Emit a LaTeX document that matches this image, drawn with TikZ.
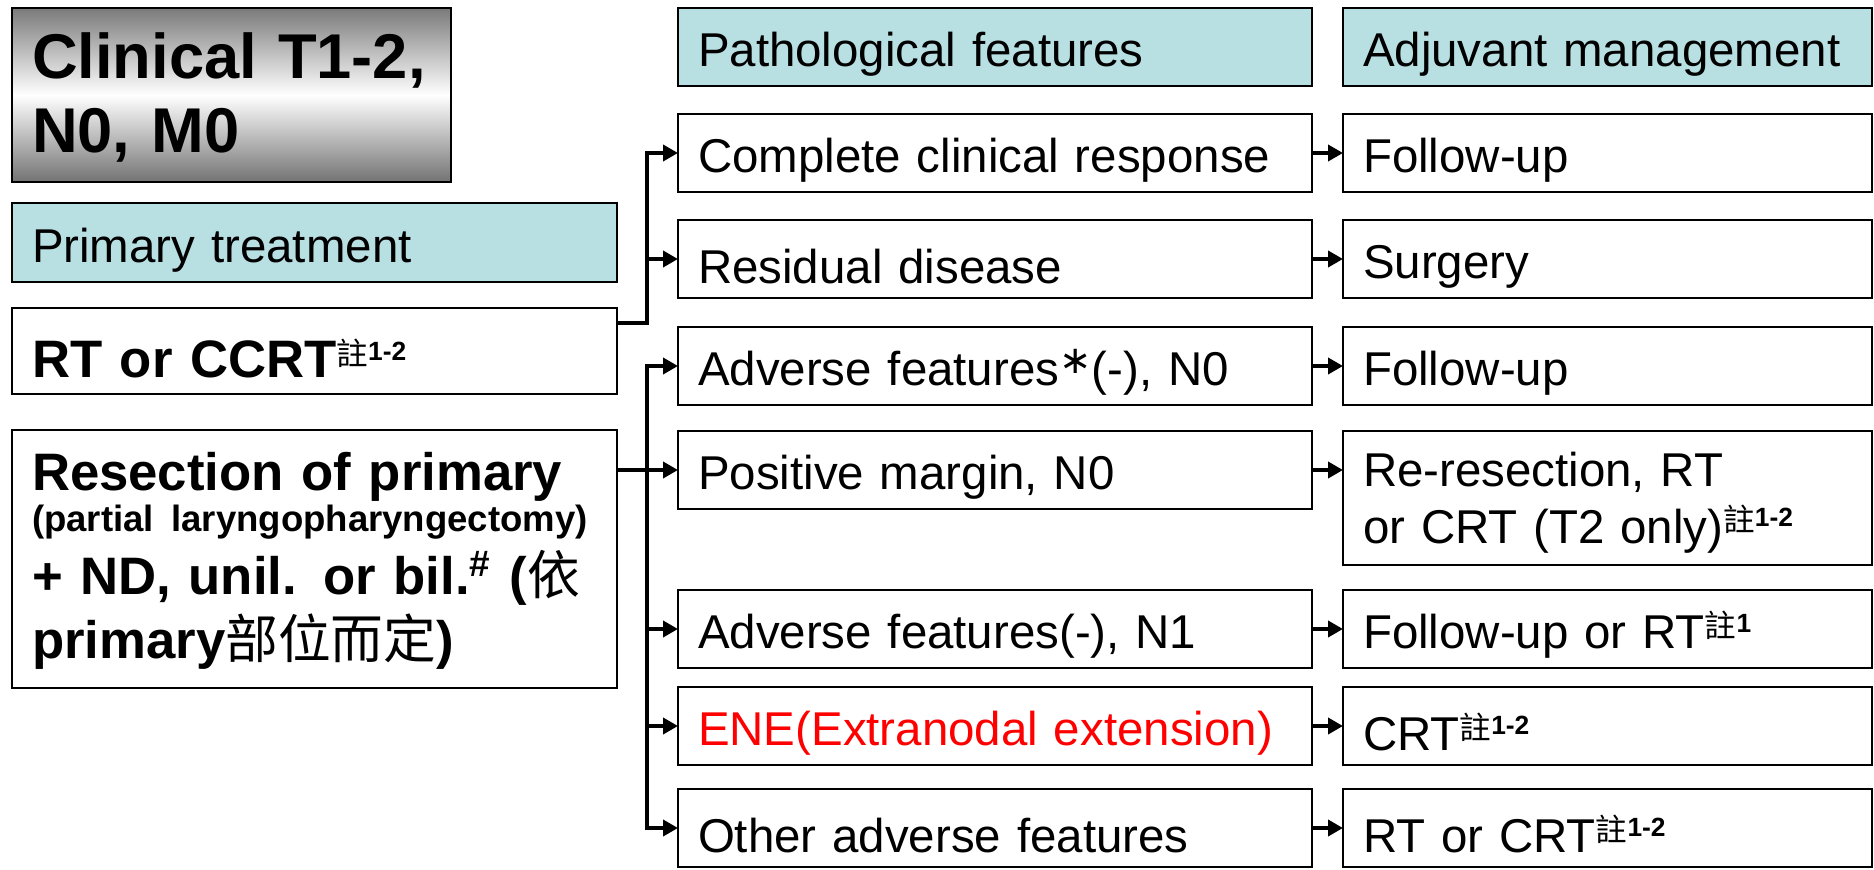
\documentclass[tikz,border=0pt]{standalone}
\usepackage{fontspec}
\setmainfont{Liberation Sans}
\newfontfamily\cjk{Noto Sans CJK TC}
\newfontfamily\symb{DejaVu Sans}
\usetikzlibrary{positioning}
\usetikzlibrary{arrows.meta}

\definecolor{headblue}{RGB}{184,223,226}
\definecolor{enered}{RGB}{255,0,0}

% footnote mark: 註 + number
\newcommand{\zhu}[1]{{\cjk\mdseries\fontsize{9}{9}\selectfont\raisebox{3.2pt}{註}}{\fontsize{7.5}{7.5}\selectfont\bfseries\raisebox{4.6pt}{#1}}}
% strut for one-line boxes
\newcommand{\st}{\rule{0pt}{1.04em}}

\begin{document}
\begin{tikzpicture}[box/.style={draw=black, line width=0.7pt, anchor=north west, align=left,
        inner xsep=0.2cm, inner ysep=0pt, outer sep=0pt, font=\fontsize{13.5}{16.2}\selectfont},
    head/.style={box, fill=headblue},
    L/.style={box, text width=5.65cm},
    P/.style={box, text width=5.94cm, minimum height=0.78cm},
    A/.style={box, text width=4.89cm, minimum height=0.78cm},
    arr/.style={line width=1.2pt, -{Triangle[length=0.15cm, width=0.16cm]}}]
    \useasboundingbox (0,0) rectangle (18.74,-8.69);

    % left column
    \node[box, text width=3.99cm, minimum height=1.74cm, top color=black!52, bottom color=black!55,
        middle color=white, font=\bfseries\fontsize{18}{21}\selectfont] (clin) at (0.12,-0.08) {\rule{0pt}{0.8em}Clinical T1-2,\\N0, M0};
    \node[head, text width=5.65cm, minimum height=0.79cm] (ptx) at (0.12,-2.03) {\st Primary treatment};
    \node[L, minimum height=0.86cm, font=\bfseries\fontsize{15}{18}\selectfont] (rt) at (0.12,-3.08) {\rule{0pt}{1em}RT or CCRT\zhu{1-2}};
    \node[L, minimum height=2.58cm, font=\bfseries\fontsize{15}{18}\selectfont] (resect) at (0.12,-4.30)
        {\rule{0pt}{0.42cm}Resection of primary\\[-6.4pt]{\fontsize{10.4}{12}\selectfont(partial laryngopharyngectomy)}\\+ ND, unil. or bil.\textsuperscript{\#} ({\cjk\mdseries 依}\\primary{\cjk\mdseries 部位而定})};

    % headers
    \node[head, text width=5.94cm, minimum height=0.78cm] (phead) at (6.78,-0.08) {\st Pathological features};
    \node[head, text width=4.89cm, minimum height=0.78cm] (ahead) [right=0.31cm of phead] {\st Adjuvant management};

    % pathological features
    \node[P] (ccr) at (6.78,-1.14) {\st Complete clinical response};
    \node[P] (resid) [below=0.28cm of ccr] {\st Residual disease};
    \node[P] (n0) [below=0.29cm of resid] {\st Adverse features{\symb\fontsize{11}{11}\selectfont\raisebox{3.5pt}{∗}}(-), N0};
    \node[P] (pm) [below=0.26cm of n0] {\st Positive margin, N0};
    \node[P] (n1) [below=0.81cm of pm] {\st Adverse features(-), N1};
    \node[P, text=enered] (ene) [below=0.19cm of n1] {\st ENE(Extranodal extension)};
    \node[P] (other) [below=0.24cm of ene] {\st Other adverse features};

    % adjuvant management
    \node[A] (fu1) [right=0.31cm of ccr] {\st Follow-up};
    \node[A] (surg) [right=0.31cm of resid] {\st Surgery};
    \node[A] (fu2) [right=0.31cm of n0] {\st Follow-up};
    \node[A, minimum height=1.34cm] (rr) [right=0.31cm of pm.north east, anchor=north west] {\rule{0pt}{0.43cm}Re-resection, RT\\or CRT (T2 only)\zhu{1-2}};
    \node[A] (fur) [right=0.31cm of n1] {\st Follow-up or RT\zhu{1}};
    \node[A] (crt) [right=0.31cm of ene] {\st CRT\zhu{1-2}};
    \node[A] (rtc) [right=0.31cm of other] {\st RT or CRT\zhu{1-2}};

    % forks
    \coordinate (forkA) at (6.47,-3.23);
    \coordinate (forkB) at (forkA |- pm);

    \draw[arr] (rt.east |- forkA) -- (forkA) |- (ccr);
    \draw[arr] (forkA) |- (resid);
    \draw[arr] (resect.east |- pm) -- (pm);
    \draw[arr] (forkB) |- (n0);
    \draw[arr] (forkB) |- (other);
    \draw[arr] (forkB |- n1) -- (n1);
    \draw[arr] (forkB |- ene) -- (ene);

    \foreach \p/\a in {ccr/fu1, resid/surg, n0/fu2, n1/fur, ene/crt, other/rtc}
        \draw[arr] (\p) -- (\a);
    \draw[arr] (pm) -- (pm -| rr.west);
\end{tikzpicture}
\end{document}
